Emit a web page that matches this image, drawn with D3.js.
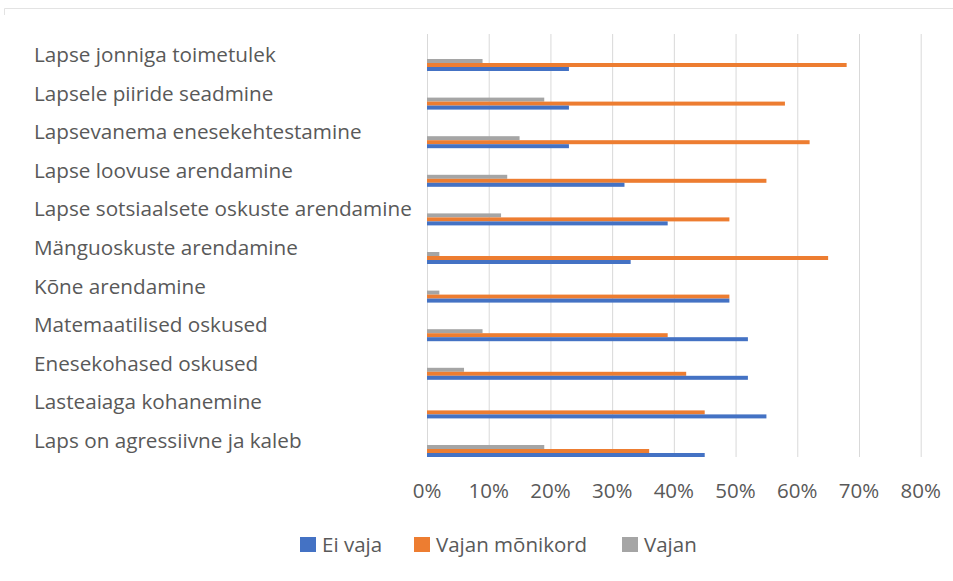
<!DOCTYPE html>
<html>
<head>
<meta charset="utf-8">
<script src="https://cdn.jsdelivr.net/npm/d3@7"></script>
<style>
  body { margin: 0; background: #fff; }
  svg { display: block; }
</style>
</head>
<body>
<svg id="svg" width="953" height="581"></svg>
<script>
    var font = "Open Sans";
    // andmed pildilt loetud
    var categories = [
        "Lapse jonniga toimetulek",
        "Lapsele piiride seadmine",
        "Lapsevanema enesekehtestamine",
        "Lapse loovuse arendamine",
        "Lapse sotsiaalsete oskuste arendamine",
        "Mänguoskuste arendamine",
        "Kõne arendamine",
        "Matemaatilised oskused",
        "Enesekohased oskused",
        "Lasteaiaga kohanemine",
        "Laps on agressiivne ja kaleb"
    ];
    var eiVaja = [23, 23, 23, 32, 39, 33, 49, 52, 52, 55, 45];
    var vajanMonikord = [68, 58, 62, 55, 49, 65, 49, 39, 42, 45, 36];
    var vajan = [9, 19, 15, 13, 12, 2, 2, 9, 6, 0, 19];
    var ticks = [0, 10, 20, 30, 40, 50, 60, 70, 80];

    var series = [
        { name: "Ei vaja", values: eiVaja, color: "#4472C4" },
        { name: "Vajan mõnikord", values: vajanMonikord, color: "#ED7D31" },
        { name: "Vajan", values: vajan, color: "#A5A5A5" }
    ];

    var svg = d3.select("#svg");

    // raam (ainult ülemine osa näha)
    svg.append("line")
        .attr("x1", 4.5).attr("x2", 953)
        .attr("y1", 8.5).attr("y2", 8.5)
        .attr("stroke", "#e3e3e3");
    svg.append("line")
        .attr("x1", 4.5).attr("x2", 4.5)
        .attr("y1", 8.5).attr("y2", 15)
        .attr("stroke", "#e3e3e3");

    var x = d3.scaleLinear().domain([0, 80]).range([427, 920.7]);
    var y = d3.scaleBand().domain(categories).range([34, 458.6]);

    // ruudustik
    svg.append("g").selectAll("line")
        .data(ticks)
        .enter()
        .append("line")
        .attr("x1", function (d) { return x(d) + 0.5; })
        .attr("x2", function (d) { return x(d) + 0.5; })
        .attr("y1", 34)
        .attr("y2", 457)
        .attr("stroke", "#d9d9d9")
        .attr("stroke-width", 1);

    // tulbad: hall üleval, oranž keskel, sinine all
    var barH = 4;
    var order = [2, 1, 0];
    order.forEach(function (si, k) {
        var s = series[si];
        svg.append("g").selectAll("rect")
            .data(categories)
            .enter()
            .append("rect")
            .attr("x", x(0))
            .attr("y", function (d) { return y(d) + 25 + k * barH; })
            .attr("width", function (d, i) { return x(s.values[i]) - x(0); })
            .attr("height", barH)
            .attr("fill", s.color);
    });

    // kategooriate sildid
    svg.append("g").selectAll("text")
        .data(categories)
        .enter()
        .append("text")
        .attr("x", 34)
        .attr("y", function (d) { return y(d) + 28; })
        .text(function (d) { return d; })
        .attr("font-family", font)
        .attr("font-size", "20.7px")
        .attr("fill", "#595959");

    // x-telje sildid
    svg.append("g").selectAll("text")
        .data(ticks)
        .enter()
        .append("text")
        .attr("x", function (d) { return x(d); })
        .attr("y", 498)
        .attr("text-anchor", "middle")
        .text(function (d) { return d + "%"; })
        .attr("font-family", font)
        .attr("font-size", "20.5px")
        .attr("fill", "#595959");

    // legend
    var legendX = [300, 414, 622];
    var lg = svg.append("g").selectAll("g")
        .data(series)
        .enter()
        .append("g")
        .attr("transform", function (d, i) { return "translate(" + legendX[i] + ",0)"; });
    lg.append("rect")
        .attr("x", 0).attr("y", 537)
        .attr("width", 16).attr("height", 15)
        .attr("fill", function (d) { return d.color; });
    lg.append("text")
        .attr("x", 22)
        .attr("y", 552)
        .text(function (d) { return d.name; })
        .attr("font-family", font)
        .attr("font-size", "20.5px")
        .attr("fill", "#595959");
</script>
</body>
</html>
